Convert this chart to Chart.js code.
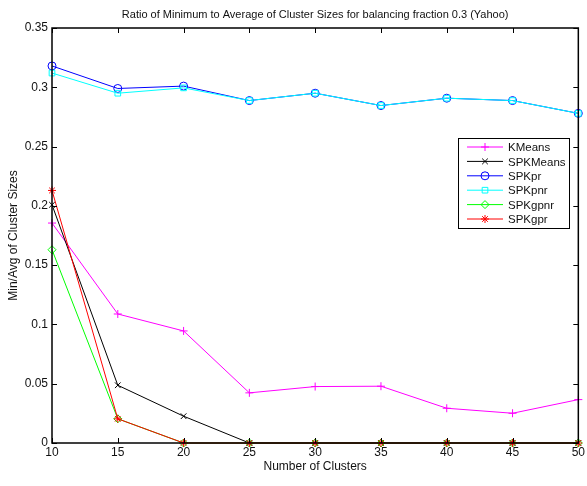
<!DOCTYPE html>
<html>
<head>
<meta charset="utf-8">
<script src="https://cdn.jsdelivr.net/npm/chart.js@4/dist/chart.umd.min.js"></script>
<style>
  html, body { margin: 0; padding: 0; background: #fff; }
  #wrap { width: 587px; height: 486px; }
</style>
</head>
<body>
<div id="wrap"><canvas id="chart" width="587" height="486"></canvas></div>
<script>
const clusters = [10, 15, 20, 25, 30, 35, 40, 45, 50];
const yTicks = [0, 0.05, 0.1, 0.15, 0.2, 0.25, 0.3, 0.35];
const chartTitle = 'Ratio of Minimum to Average of Cluster Sizes for balancing fraction 0.3 (Yahoo)';

const kMeans   = [0.1855, 0.1088, 0.0945, 0.0423, 0.0476, 0.0479, 0.0293, 0.0251, 0.0366];
const spkMeans = [0.2009, 0.0487, 0.0226, 0, 0, 0, 0, 0, 0];
const spkPr    = [0.3180, 0.2990, 0.3010, 0.2888, 0.2950, 0.2846, 0.2908, 0.2888, 0.2780];
const spkPnr   = [0.3120, 0.2950, 0.2995, 0.2888, 0.2950, 0.2846, 0.2908, 0.2888, 0.2780];
const spkGpnr  = [0.1630, 0.0204, 0, 0, 0, 0, 0, 0, 0];
const spkGpr   = [0.2130, 0.0204, 0, 0, 0, 0, 0, 0, 0];

const FONT = "'Liberation Sans', Arial, Helvetica, sans-serif";
const TEXT = '#111';

function series(label, values, color, pointStyle, order) {
    return {
        label: label,
        data: values.map((v, i) => ({ x: clusters[i], y: v })),
        borderColor: color,
        backgroundColor: 'rgba(0,0,0,0)',
        pointBorderColor: color,
        pointBackgroundColor: 'rgba(0,0,0,0)',
        pointStyle: pointStyle,
        pointRadius: 4,
        pointBorderWidth: 1,
        borderWidth: 1,
        tension: 0,
        clip: false,
        order: order,
    };
}

// title over the plot area, frame, inward ticks and legend box (MATLAB look)
const framePlugin = {
    id: 'frame',
    afterDraw(chart) {
        const ctx = chart.ctx;
        const a = chart.chartArea;
        const xs = chart.scales.x;
        const ys = chart.scales.y;
        const len = 5;
        ctx.save();

        ctx.fillStyle = TEXT;
        ctx.font = '11px ' + FONT;
        ctx.textAlign = 'center';
        ctx.textBaseline = 'middle';
        ctx.fillText(chartTitle, (a.left + a.right) / 2, 15);

        ctx.strokeStyle = '#000';
        ctx.lineWidth = 1;
        ctx.beginPath();
        clusters.forEach(c => {
            const px = Math.round(xs.getPixelForValue(c)) + 0.5;
            ctx.moveTo(px, a.bottom); ctx.lineTo(px, a.bottom - len);
            ctx.moveTo(px, a.top); ctx.lineTo(px, a.top + len);
        });
        yTicks.forEach(t => {
            const py = Math.round(ys.getPixelForValue(t)) + 0.5;
            ctx.moveTo(a.left, py); ctx.lineTo(a.left + len, py);
            ctx.moveTo(a.right, py); ctx.lineTo(a.right - len, py);
        });
        ctx.stroke();
        ctx.lineWidth = 1.5;
        ctx.strokeRect(a.left, a.top, a.right - a.left, a.bottom - a.top);

        // legend
        const lx = 458, ly = 138, lw = 111, rowH = 14.4;
        const sets = chart.data.datasets;
        const lh = 90;
        ctx.fillStyle = '#fff';
        ctx.fillRect(lx, ly, lw, lh);
        ctx.lineWidth = 1;
        ctx.strokeStyle = '#000';
        ctx.strokeRect(lx + 0.5, ly + 0.5, lw, lh);
        ctx.font = '11.5px ' + FONT;
        ctx.textAlign = 'left';
        ctx.textBaseline = 'middle';
        sets.forEach((ds, i) => {
            const cy = ly + 9 + i * rowH;
            ctx.strokeStyle = ds.borderColor;
            ctx.lineWidth = 1;
            ctx.beginPath();
            ctx.moveTo(lx + 9, cy); ctx.lineTo(lx + 45, cy);
            ctx.stroke();
            ctx.fillStyle = 'rgba(0,0,0,0)';
            Chart.helpers.drawPoint(ctx, {
                pointStyle: ds.pointStyle, radius: 4, borderWidth: 1, rotation: 0
            }, lx + 27, cy);
            ctx.fillStyle = TEXT;
            ctx.fillText(ds.label, lx + 50, cy + 1);
        });
        ctx.restore();
    }
};

new Chart(document.getElementById('chart'), {
    type: 'line',
    data: {
        datasets: [
            series('KMeans', kMeans, '#ff00ff', 'cross', 6),
            series('SPKMeans', spkMeans, '#000000', 'crossRot', 5),
            series('SPKpr', spkPr, '#0000ff', 'circle', 4),
            series('SPKpnr', spkPnr, '#00ffff', 'rect', 3),
            series('SPKgpnr', spkGpnr, '#00ff00', 'rectRot', 2),
            series('SPKgpr', spkGpr, '#ff0000', 'star', 1),
        ]
    },
    options: {
        responsive: false,
        animation: false,
        layout: { padding: { left: 0, right: 8, top: 28, bottom: 12 } },
        plugins: {
            legend: { display: false },
            tooltip: { enabled: false },
            title: { display: false },
        },
        scales: {
            x: {
                type: 'linear',
                min: 10,
                max: 50,
                afterBuildTicks: s => { s.ticks = clusters.map(v => ({ value: v })); },
                afterFit: s => { s.height = 31; },
                grid: { display: false, drawTicks: false, tickLength: 0 },
                border: { display: false },
                ticks: { color: TEXT, font: { family: FONT, size: 12 }, padding: 2 },
                title: {
                    display: true,
                    text: 'Number of Clusters',
                    color: TEXT,
                    font: { family: FONT, size: 12 },
                    padding: { top: 1, bottom: 0 },
                },
            },
            y: {
                min: 0,
                max: 0.35,
                afterBuildTicks: s => { s.ticks = yTicks.map(v => ({ value: v })); },
                afterFit: s => { s.width = 52; },
                grid: { display: false, drawTicks: false, tickLength: 0 },
                border: { display: false },
                ticks: {
                    color: TEXT,
                    font: { family: FONT, size: 12 },
                    padding: 4,
                    callback: v => String(Number(v.toFixed(2))),
                },
                title: {
                    display: true,
                    text: 'Min/Avg of Cluster Sizes',
                    color: TEXT,
                    font: { family: FONT, size: 12 },
                    padding: { top: 6, bottom: 0 },
                },
            },
        },
    },
    plugins: [framePlugin],
});
</script>
</body>
</html>
